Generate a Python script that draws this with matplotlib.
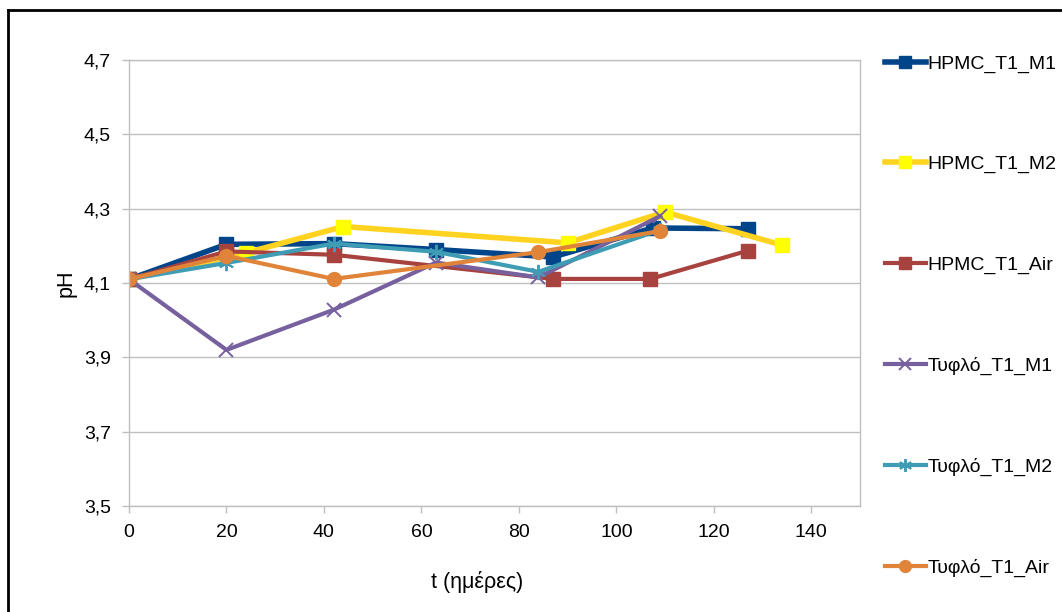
import matplotlib
matplotlib.use('Agg')
import matplotlib.pyplot as plt
from matplotlib.ticker import FuncFormatter, MultipleLocator
from matplotlib.lines import Line2D

plt.rcParams['font.family'] = ['Liberation Sans', 'DejaVu Sans']

# days / pH per series
t_m1 = [0, 20, 42, 63, 87, 107.5, 127]
ph_m1 = [4.11, 4.204, 4.206, 4.19, 4.17, 4.248, 4.246]

t_m2 = [0, 24, 44, 90, 110, 134]
ph_m2 = [4.11, 4.181, 4.252, 4.208, 4.291, 4.202]

t_air = [0, 20, 42, 87, 107, 127]
ph_air = [4.11, 4.185, 4.176, 4.111, 4.111, 4.187]

t_b_m1 = [0, 20, 42, 63, 84, 109]
ph_b_m1 = [4.11, 3.920, 4.028, 4.155, 4.115, 4.280]

t_b_m2 = [0, 20, 42, 63, 84, 109]
ph_b_m2 = [4.11, 4.154, 4.206, 4.184, 4.13, 4.243]

t_b_air = [0, 20, 42, 84, 109]
ph_b_air = [4.11, 4.173, 4.111, 4.183, 4.24]

labels = ['HPMC_T1_M1', 'HPMC_T1_M2', 'HPMC_T1_Air',
          'Τυφλό_T1_M1', 'Τυφλό_T1_M2', 'Τυφλό_T1_Air']
y_ticks = [3.5, 3.7, 3.9, 4.1, 4.3, 4.5, 4.7]

fig = plt.figure(figsize=(10.62, 6.12), dpi=100)
ax = fig.add_axes([129/1062, 106/612, 731/1062, 446/612])

grid_c = '#BFBFBF'
asterisk = (6, 2, 0)

ax.plot(t_m1, ph_m1, color='#00458A', lw=4, marker='s', ms=9.5, mec='#00458A', label=labels[0])
ax.plot(t_m2, ph_m2, color='#FFD320', lw=4, marker='s', ms=10, mfc='#FFFF00', mec='#FFFF00', label=labels[1])
ax.plot(t_air, ph_air, color='#A8423F', lw=3, marker='s', ms=9.5, mec='#A8423F', label=labels[2])
ax.plot(t_b_m1, ph_b_m1, color='#77609E', lw=3, marker='x', ms=10, mew=1.4, label=labels[3])
ax.plot(t_b_m2, ph_b_m2, color='#3E9DB4', lw=3, marker=asterisk, ms=11, mew=1.4, label=labels[4])
ax.plot(t_b_air, ph_b_air, color='#E0843A', lw=3, marker='o', ms=10, mec='#E0843A', label=labels[5])

ax.set_xlim(0, 150)
ax.set_ylim(3.5, 4.7)
ax.xaxis.set_major_locator(MultipleLocator(20))
ax.set_yticks(y_ticks)
ax.xaxis.set_major_formatter(FuncFormatter(lambda v, p: '' if v > 140 else '%d' % v))
ax.yaxis.set_major_formatter(FuncFormatter(lambda v, p: ('%.1f' % v).replace('.', ',')))

ax.grid(axis='y', color=grid_c, lw=1)
ax.set_axisbelow(True)
for s in ax.spines.values():
    s.set_color(grid_c)
    s.set_linewidth(1)
ax.tick_params(axis='both', color=grid_c, length=5, width=1, pad=8, labelsize=14, labelcolor='#000000')

ax.set_xlabel('t (ημέρες)', fontsize=15.5)
ax.set_ylabel('pH', fontsize=15.5)
ax.xaxis.set_label_coords(0.476, -0.145)
ax.yaxis.set_label_coords(-0.072, 0.5)

leg = ax.legend(loc='upper left', bbox_to_anchor=(877/1062, 565/612), bbox_transform=fig.transFigure,
                frameon=False, fontsize=14, labelspacing=4.26, handlelength=2.1,
                handletextpad=0.1, borderaxespad=0, markerscale=0.85)

# outer chart border (left and top edges visible)
fig.add_artist(Line2D([8/1062, 8/1062], [0, 1 - 10/612], color='#000000', lw=2, transform=fig.transFigure))
fig.add_artist(Line2D([8/1062, 1], [1 - 10/612, 1 - 10/612], color='#000000', lw=2, transform=fig.transFigure))

fig.savefig('out.png', dpi=100)
